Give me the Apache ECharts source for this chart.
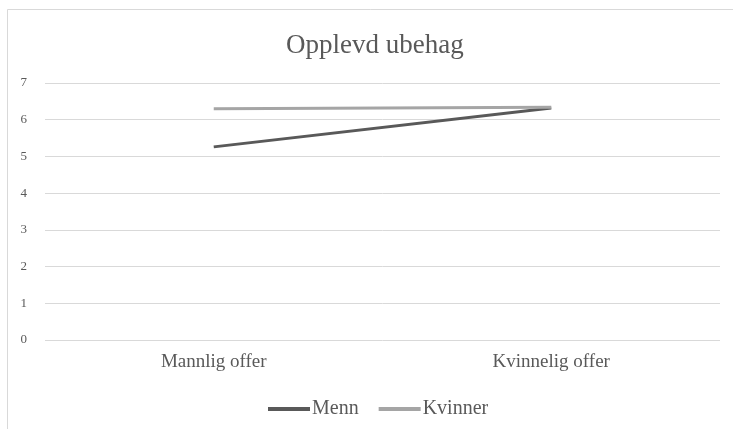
<!DOCTYPE html>
<html>
<head>
<meta charset="utf-8">
<script src="https://cdn.jsdelivr.net/npm/echarts@6/dist/echarts.min.js"></script>
<style>
  html, body { margin: 0; padding: 0; background: #fff; }
  #chart { width: 734px; height: 429px; }
</style>
</head>
<body>
<div id="chart"></div>
<script>
const categories = ['Mannlig offer', 'Kvinnelig offer'];
const menn = [5.26, 6.32];
const kvinner = [6.30, 6.34];
const yTicks = [0, 1, 2, 3, 4, 5, 6, 7];

const font = '"Liberation Serif", "DejaVu Serif", serif';
const chart = echarts.init(document.getElementById('chart'));
chart.setOption({
  animation: false,
  backgroundColor: '#fff',
  // chart-area frame: top and left edges
  graphic: [
    {
      type: 'polyline',
      shape: { points: [[7.5, 429], [7.5, 9.5], [733, 9.5]] },
      style: { fill: 'none', stroke: '#d9d9d9', lineWidth: 1 },
      silent: true
    }
  ],
  title: {
    text: 'Opplevd ubehag',
    left: 281,
    top: 27,
    textStyle: { fontFamily: font, fontSize: 27, fontWeight: 'normal', color: '#595959' }
  },
  legend: {
    top: 394,
    left: 263,
    itemWidth: 42,
    itemHeight: 4,
    itemGap: 20,
    icon: 'rect',
    textStyle: { fontFamily: font, fontSize: 20, color: '#595959', padding: [0, 0, 0, -3] },
    data: ['Menn', 'Kvinner']
  },
  grid: { left: 45, right: 14, top: 83, bottom: 89 },
  xAxis: {
    type: 'category',
    data: categories,
    boundaryGap: true,
    axisLine: { show: false },
    axisTick: { show: false },
    axisLabel: { fontFamily: font, fontSize: 19, color: '#595959', margin: 13 }
  },
  yAxis: {
    type: 'value',
    min: yTicks[0],
    max: yTicks[yTicks.length - 1],
    interval: 1,
    axisLine: { show: false },
    axisTick: { show: false },
    axisLabel: { fontFamily: font, fontSize: 13, color: '#595959', margin: 18 },
    splitLine: { lineStyle: { color: '#d9d9d9', width: 1 } }
  },
  series: [
    {
      name: 'Menn',
      type: 'line',
      data: menn,
      symbol: 'none',
      lineStyle: { color: '#595959', width: 3 },
      itemStyle: { color: '#595959' }
    },
    {
      name: 'Kvinner',
      type: 'line',
      data: kvinner,
      symbol: 'none',
      lineStyle: { color: '#a5a5a5', width: 3 },
      itemStyle: { color: '#a5a5a5' }
    }
  ]
});
</script>
</body>
</html>
